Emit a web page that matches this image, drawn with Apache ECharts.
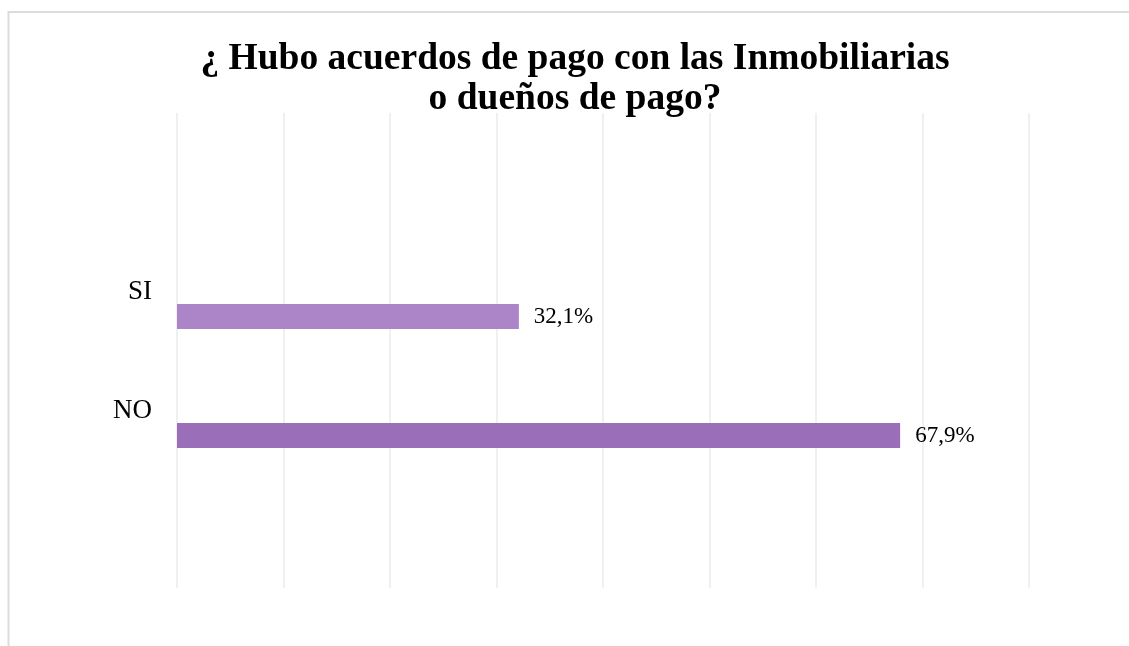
<!DOCTYPE html>
<html>
<head>
<meta charset="utf-8">
<script src="https://cdn.jsdelivr.net/npm/echarts@6/dist/echarts.min.js"></script>
<style>
html,body{margin:0;padding:0;background:#fff;}
#c{width:1129px;height:646px;}
</style>
</head>
<body>
<div id="c"></div>
<script>
const titleText = '¿ Hubo acuerdos de pago con las Inmobiliarias\no dueños de pago?';
const categories = ['SI', 'NO'];
const values = [32.1, 67.9];
const barColors = ['#AB85C8', '#9B6EB9'];
const axisMax = 80;
const axisStep = 10;

const serif = '"Liberation Serif", "Times New Roman", serif';
const chart = echarts.init(document.getElementById('c'), null, {renderer: 'canvas'});
chart.setOption({
  backgroundColor: '#ffffff',
  animation: false,
  title: {
    text: titleText,
    left: 575,
    top: 39,
    padding: 0,
    textAlign: 'center',
    textStyle: {fontFamily: serif, fontWeight: 'bold', fontSize: 37.5, lineHeight: 40, color: '#000'}
  },
  graphic: [{
    type: 'rect', silent: true, z: -10,
    shape: {x: 8.5, y: 12, width: 1130, height: 700},
    style: {fill: 'none', stroke: '#dcdcdc', lineWidth: 2}
  }],
  grid: [
    {left: 177, width: 852, top: 113, height: 475},
    {left: 177, width: 852, top: 257, height: 238}
  ],
  xAxis: [
    {gridIndex: 0, type: 'value', min: 0, max: axisMax, interval: axisStep,
     axisLine: {show: false}, axisTick: {show: false}, axisLabel: {show: false},
     splitLine: {show: true, lineStyle: {color: '#ebebeb', width: 1.5}}},
    {gridIndex: 1, type: 'value', min: 0, max: axisMax, interval: axisStep,
     axisLine: {show: false}, axisTick: {show: false}, axisLabel: {show: false},
     splitLine: {show: false}}
  ],
  yAxis: [
    {gridIndex: 0, type: 'category', data: categories, show: false},
    {gridIndex: 1, type: 'category', data: categories, inverse: true,
     axisLine: {show: false}, axisTick: {show: false},
     axisLabel: {
       margin: 25,
       formatter: v => '{a|' + v + '}',
       rich: {a: {fontFamily: serif, fontSize: 27, color: '#000', padding: [0, 0, 50, 0]}}
     }}
  ],
  series: [{
    type: 'bar',
    xAxisIndex: 1, yAxisIndex: 1,
    barWidth: 25,
    data: values.map((v, i) => ({value: v, itemStyle: {color: barColors[i]}})),
    label: {
      show: true, position: 'right', distance: 15,
      fontFamily: serif, fontSize: 23, color: '#000',
      formatter: p => p.value.toFixed(1).replace('.', ',') + '%'
    }
  }]
});
</script>
</body>
</html>
